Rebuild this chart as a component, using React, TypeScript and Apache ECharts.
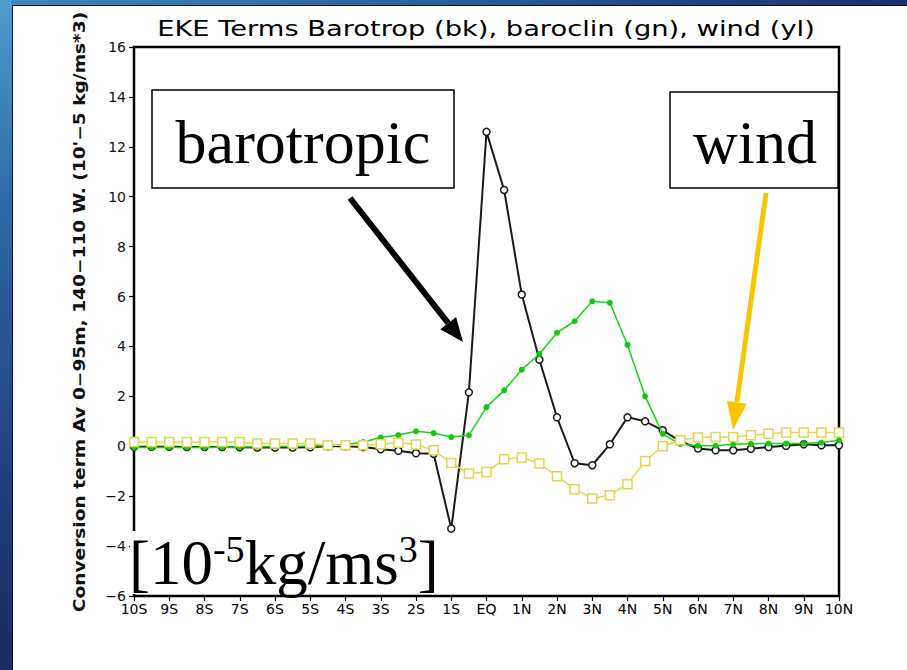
import React, { useEffect, useRef } from "react";
import * as echarts from "echarts";

// Latitude grid, 10S to 10N every half degree
const lats: number[] = Array.from({ length: 41 }, (_, i) => -10 + i * 0.5);

const xTickLabels = [
  "10S", "9S", "8S", "7S", "6S", "5S", "4S", "3S", "2S", "1S", "EQ",
  "1N", "2N", "3N", "4N", "5N", "6N", "7N", "8N", "9N", "10N",
];

// Barotropic conversion (black)
const barotropic = [
  -0.02, -0.02, -0.02, -0.03, -0.03, -0.03, -0.04, -0.05, -0.05, -0.05, -0.04, 0.0, 0.0,
  -0.03, -0.12, -0.18, -0.28, -0.3, -3.3, 2.16, 12.6, 10.27, 6.08, 3.47, 1.16, -0.68,
  -0.76, 0.08, 1.16, 1.0, 0.64, 0.2, -0.09, -0.16, -0.16, -0.1, -0.03, 0.02, 0.08, 0.04, 0.04,
];

// Baroclinic conversion (green)
const baroclinic = [
  -0.05, -0.05, -0.05, -0.05, -0.05, -0.04, -0.03, -0.02, -0.01, 0.0, 0.01, 0.03, 0.06,
  0.17, 0.35, 0.45, 0.6, 0.53, 0.37, 0.44, 1.57, 2.24, 3.07, 3.7, 4.55, 5.01,
  5.81, 5.75, 4.06, 2.0, 0.5, 0.08, 0.02, 0.02, 0.08, 0.1, 0.11, 0.11, 0.11, 0.15, 0.24,
];

// Wind work (yellow)
const wind = [
  0.17, 0.17, 0.17, 0.17, 0.17, 0.17, 0.17, 0.11, 0.11, 0.11, 0.11, 0.04, 0.04,
  0.04, 0.08, 0.14, 0.07, -0.16, -0.67, -1.09, -1.03, -0.52, -0.45, -0.69, -1.2, -1.72,
  -2.09, -1.96, -1.52, -0.59, 0.0, 0.24, 0.35, 0.37, 0.37, 0.44, 0.5, 0.55, 0.55, 0.55, 0.55,
];

const pair = (vals: number[]) => vals.map((v, i) => [lats[i], v]);
const minus = (s: string) => s.replace("-", "\u2212");

const GRADS_FONT = "'DejaVu Sans', sans-serif";
const SERIF = "'Liberation Serif', 'Times New Roman', serif";

function arrowHead(tip: [number, number], from: [number, number], len: number, half: number) {
  const dx = tip[0] - from[0];
  const dy = tip[1] - from[1];
  const l = Math.hypot(dx, dy);
  const ux = dx / l, uy = dy / l;
  const bx = tip[0] - ux * len, by = tip[1] - uy * len;
  const px = -uy, py = ux;
  return {
    base: [bx, by] as [number, number],
    points: [tip, [bx + px * half, by + py * half], [bx - px * half, by - py * half]],
  };
}

export default function App() {
  const ref = useRef<HTMLDivElement>(null);

  useEffect(() => {
    if (!ref.current) return;
    const chart = echarts.init(ref.current, null, { renderer: "svg" });

    const bkFrom: [number, number] = [350, 198];
    const bkTip: [number, number] = [463, 342];
    const bkHead = arrowHead(bkTip, bkFrom, 24, 10);
    const ylFrom: [number, number] = [766, 193];
    const ylTip: [number, number] = [733, 430];
    const ylHead = arrowHead(ylTip, ylFrom, 28, 10);

    chart.setOption({
      animation: false,
      backgroundColor: "#ffffff",
      grid: {
        left: 134,
        right: 68,
        top: 47,
        bottom: 74,
        show: true,
        borderColor: "#000",
        borderWidth: 2.5,
        backgroundColor: "transparent",
      },
      xAxis: {
        type: "value",
        min: -10,
        max: 10,
        interval: 1,
        axisLine: { show: false, onZero: false },
        splitLine: { show: false },
        axisTick: { show: true, length: 5, lineStyle: { color: "#000", width: 1.2 } },
        axisLabel: {
          color: "#000",
          fontFamily: GRADS_FONT,
          fontSize: 14,
          margin: 6,
          formatter: (v: number) => xTickLabels[Math.round(v) + 10],
        },
      },
      yAxis: {
        type: "value",
        min: -6,
        max: 16,
        interval: 2,
        axisLine: { show: false, onZero: false },
        splitLine: { show: false },
        axisTick: { show: true, length: 5, lineStyle: { color: "#000", width: 1.2 } },
        axisLabel: {
          color: "#111",
          fontFamily: GRADS_FONT,
          fontSize: 14,
          margin: 8,
          formatter: (v: number) => minus(String(v)),
        },
      },
      series: [
        {
          name: "barotropic",
          type: "line",
          data: pair(barotropic),
          symbol: "circle",
          symbolSize: 7,
          lineStyle: { color: "#1a1a1a", width: 2 },
          itemStyle: { color: "#ffffff", borderColor: "#1a1a1a", borderWidth: 1.5 },
          z: 2,
        },
        {
          name: "baroclinic",
          type: "line",
          data: pair(baroclinic),
          symbol: "circle",
          symbolSize: 6,
          lineStyle: { color: "#12d812", width: 1.5 },
          itemStyle: { color: "#12c812", borderColor: "#12c812", borderWidth: 0 },
          z: 3,
        },
        {
          name: "wind",
          type: "line",
          data: pair(wind),
          symbol: "rect",
          symbolSize: 9,
          lineStyle: { color: "#e4d64c", width: 1.5 },
          itemStyle: { color: "#ffffff", borderColor: "#e4d64c", borderWidth: 1.5 },
          z: 4,
        },
      ],
      graphic: [
        // blue border strips
        {
          type: "rect",
          shape: { x: 0, y: 0, width: 907, height: 5 },
          style: {
            fill: new echarts.graphic.LinearGradient(0, 0, 1, 0, [
              { offset: 0, color: "#3f88b8" },
              { offset: 0.5, color: "#2a5f9c" },
              { offset: 1, color: "#1b2f6a" },
            ]),
          },
          z: 100,
        },
        {
          type: "rect",
          shape: { x: 0, y: 0, width: 12, height: 670 },
          style: {
            fill: new echarts.graphic.LinearGradient(0, 0, 0, 1, [
              { offset: 0, color: "#4e9ccc" },
              { offset: 0.3, color: "#2f6aa6" },
              { offset: 0.7, color: "#22407e" },
              { offset: 1, color: "#1a2c60" },
            ]),
          },
          z: 100,
        },
        {
          type: "line",
          shape: { x1: 12.5, y1: 5, x2: 12.5, y2: 670 },
          style: { stroke: "#0a0f26", lineWidth: 1 },
          z: 100,
        },
        {
          type: "line",
          shape: { x1: 12, y1: 5.5, x2: 907, y2: 5.5 },
          style: { stroke: "#0a0f26", lineWidth: 1 },
          z: 100,
        },
        // title
        {
          type: "text",
          x: 486,
          y: 29,
          scaleX: 1.3,
          style: {
            text: "EKE Terms Barotrop (bk), baroclin (gn), wind (yl)",
            font: `21px ${GRADS_FONT}`,
            fill: "#000",
            textAlign: "center",
            textVerticalAlign: "middle",
          },
          z: 100,
        },
        // y axis title
        {
          type: "text",
          x: 80,
          y: 312,
          rotation: Math.PI / 2,
          scaleX: 1.24,
          style: {
            text: "Conversion term Av 0\u221295m, 140\u2212110 W. (10'\u22125 kg/ms*3)",
            font: `bold 15px ${GRADS_FONT}`,
            fill: "#111",
            textAlign: "center",
            textVerticalAlign: "middle",
          },
          z: 100,
        },
        // barotropic label box
        {
          type: "rect",
          shape: { x: 152, y: 90, width: 302, height: 98 },
          style: { fill: "#fff", stroke: "#000", lineWidth: 1.5 },
          z: 100,
        },
        {
          type: "text",
          x: 303,
          y: 142,
          style: {
            text: "barotropic",
            font: `62px ${SERIF}`,
            fill: "#000",
            textAlign: "center",
            textVerticalAlign: "middle",
          },
          z: 101,
        },
        // wind label box
        {
          type: "rect",
          shape: { x: 670, y: 92, width: 168, height: 96 },
          style: { fill: "#fff", stroke: "#000", lineWidth: 1.5 },
          z: 100,
        },
        {
          type: "text",
          x: 755,
          y: 142,
          style: {
            text: "wind",
            font: `62px ${SERIF}`,
            fill: "#000",
            textAlign: "center",
            textVerticalAlign: "middle",
          },
          z: 101,
        },
        // black arrow
        {
          type: "line",
          shape: { x1: bkFrom[0], y1: bkFrom[1], x2: bkHead.base[0], y2: bkHead.base[1] },
          style: { stroke: "#000", lineWidth: 6 },
          z: 100,
        },
        {
          type: "polygon",
          shape: { points: bkHead.points },
          style: { fill: "#000" },
          z: 100,
        },
        // yellow arrow
        {
          type: "line",
          shape: { x1: ylFrom[0], y1: ylFrom[1], x2: ylHead.base[0], y2: ylHead.base[1] },
          style: { stroke: "#f7c600", lineWidth: 5 },
          z: 100,
        },
        {
          type: "polygon",
          shape: { points: ylHead.points },
          style: { fill: "#f7c600" },
          z: 100,
        },
        // unit label
        {
          type: "rect",
          shape: { x: 130, y: 531, width: 318, height: 63 },
          style: { fill: "#fff" },
          z: 100,
        },
        {
          type: "text",
          x: 129,
          y: 530,
          style: {
            text: "{b|[10}{s|-5}{b|kg/ms}{s|3}{b|]}",
            fill: "#000",
            textAlign: "left",
            textVerticalAlign: "top",
            rich: {
              b: { font: `63px ${SERIF}`, lineHeight: 66, fill: "#000" },
              s: { font: `38px ${SERIF}`, lineHeight: 36, verticalAlign: "top", fill: "#000" },
            },
          },
          z: 101,
        },
      ],
    });

    return () => chart.dispose();
  }, []);

  return (
    <div
      ref={ref}
      style={{ position: "fixed", left: 0, top: 0, width: 907, height: 670 }}
    />
  );
}
